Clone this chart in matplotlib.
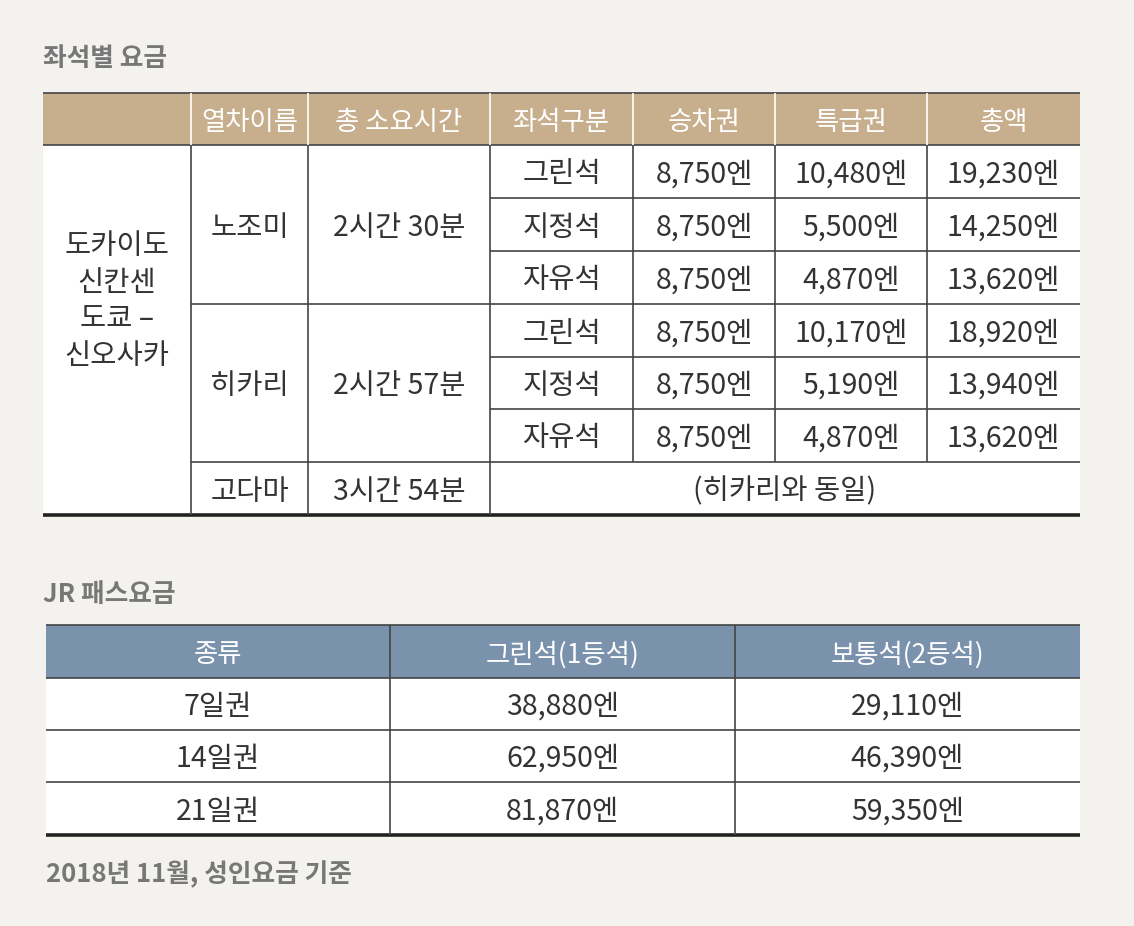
import matplotlib
matplotlib.use("Agg")
import matplotlib.pyplot as plt
from matplotlib.patches import Rectangle

plt.rcParams['font.family'] = ['Noto Sans CJK KR', 'DejaVu Sans']

title1 = "좌석별 요금"
title2 = "JR 패스요금"
footer = "2018년 11월, 성인요금 기준"
header1 = ["", "열차이름", "총 소요시간", "좌석구분", "승차권", "특급권", "총액"]
route = "도카이도\n신칸센\n도쿄 –\n신오사카"
trains = ["노조미", "히카리", "고다마"]
times = ["2시간 30분", "2시간 57분", "3시간 54분"]
seats = ["그린석", "지정석", "자유석", "그린석", "지정석", "자유석"]
ticket = ["8,750엔"] * 6
express = ["10,480엔", "5,500엔", "4,870엔", "10,170엔", "5,190엔", "4,870엔"]
total = ["19,230엔", "14,250엔", "13,620엔", "18,920엔", "13,940엔", "13,620엔"]
kodama_note = "(히카리와 동일)"
header2 = ["종류", "그린석(1등석)", "보통석(2등석)"]
passes = ["7일권", "14일권", "21일권"]
green = ["38,880엔", "62,950엔", "81,870엔"]
normal = ["29,110엔", "46,390엔", "59,350엔"]

fig = plt.figure(figsize=(11.34, 9.26), dpi=100)
fig.patch.set_facecolor('#f4f2ee')
ax = fig.add_axes([0, 0, 1, 1])
ax.set_xlim(0, 1134); ax.set_ylim(926, 0); ax.axis('off')

TXT = '#333333'; LN = '#444444'; FS = 20.5; DY = 3
def line(x0, y0, x1, y1, lw=1.2, c=LN):
    ax.plot([x0, x1], [y0, y1], color=c, lw=lw, solid_capstyle='butt')
def t(x, y, s, **k):
    ax.text(x, y + DY, s, ha='center', va='center', fontsize=k.pop('fs', FS), color=k.pop('c', TXT), **k)

ax.text(43, 58, title1, fontsize=18.5, color='#777777', fontweight='bold', va='center')
ax.text(43, 595, title2, fontsize=18.5, color='#777777', fontweight='bold', va='center')
ax.text(46, 875, footer, fontsize=18.5, color='#777777', fontweight='bold', va='center')

# Table 1
cx = [43, 191, 308, 490, 633, 775, 927, 1080]
ry = [93, 145, 198, 251, 304, 357, 409, 462, 515]
ax.add_patch(Rectangle((cx[0], ry[0]), cx[-1]-cx[0], ry[1]-ry[0], color='#c7ae8c', lw=0))
ax.add_patch(Rectangle((cx[0], ry[1]), cx[-1]-cx[0], ry[-1]-ry[1], color='white', lw=0))
for i in range(1, 7):
    t((cx[i]+cx[i+1])/2, (ry[0]+ry[1])/2, header1[i], c='white', fs=19, fontweight='medium')
t((cx[0]+cx[1])/2, (ry[1]+ry[-1])/2 - 32, route, linespacing=1.3)
for k in range(2):
    y0, y1 = ry[1+3*k], ry[4+3*k]
    t((cx[1]+cx[2])/2, (y0+y1)/2, trains[k])
    t((cx[2]+cx[3])/2, (y0+y1)/2, times[k])
for r in range(6):
    yc = (ry[1+r]+ry[2+r])/2
    for j, arr in enumerate([seats, ticket, express, total]):
        t((cx[3+j]+cx[4+j])/2, yc, arr[r])
yc = (ry[7]+ry[8])/2
t((cx[1]+cx[2])/2, yc, trains[2]); t((cx[2]+cx[3])/2, yc, times[2])
t((cx[3]+cx[-1])/2, yc, kodama_note)
line(cx[0], ry[0], cx[-1], ry[0])
line(cx[0], ry[1], cx[-1], ry[1])
for r in range(2, 8):
    x0 = cx[1] if r in (4, 7) else cx[3]
    line(x0, ry[r], cx[-1], ry[r])
line(cx[0], ry[-1], cx[-1], ry[-1], lw=2.6, c='#222222')
for i in range(1, 4):
    line(cx[i], ry[1], cx[i], ry[-1])
for i in range(4, 7):
    line(cx[i], ry[1], cx[i], ry[7])
for i in range(1, 7):
    line(cx[i], ry[0], cx[i], ry[1], c='white')

# Table 2
cx2 = [46, 390, 735, 1080]
ry2 = [625, 678, 730, 782, 835]
ax.add_patch(Rectangle((cx2[0], ry2[0]), cx2[-1]-cx2[0], ry2[1]-ry2[0], color='#7b92ad', lw=0))
ax.add_patch(Rectangle((cx2[0], ry2[1]), cx2[-1]-cx2[0], ry2[-1]-ry2[1], color='white', lw=0))
for i in range(3):
    t((cx2[i]+cx2[i+1])/2, (ry2[0]+ry2[1])/2, header2[i], c='white', fs=19, fontweight='medium')
for r in range(3):
    yc = (ry2[1+r]+ry2[2+r])/2
    for j, arr in enumerate([passes, green, normal]):
        t((cx2[j]+cx2[j+1])/2, yc, arr[r])
for r in range(0, 4):
    line(cx2[0], ry2[r], cx2[-1], ry2[r])
line(cx2[0], ry2[-1], cx2[-1], ry2[-1], lw=2.6, c='#222222')
for i in (1, 2):
    line(cx2[i], ry2[0], cx2[i], ry2[-1])

fig.savefig('out.png', dpi=100, facecolor=fig.get_facecolor())
